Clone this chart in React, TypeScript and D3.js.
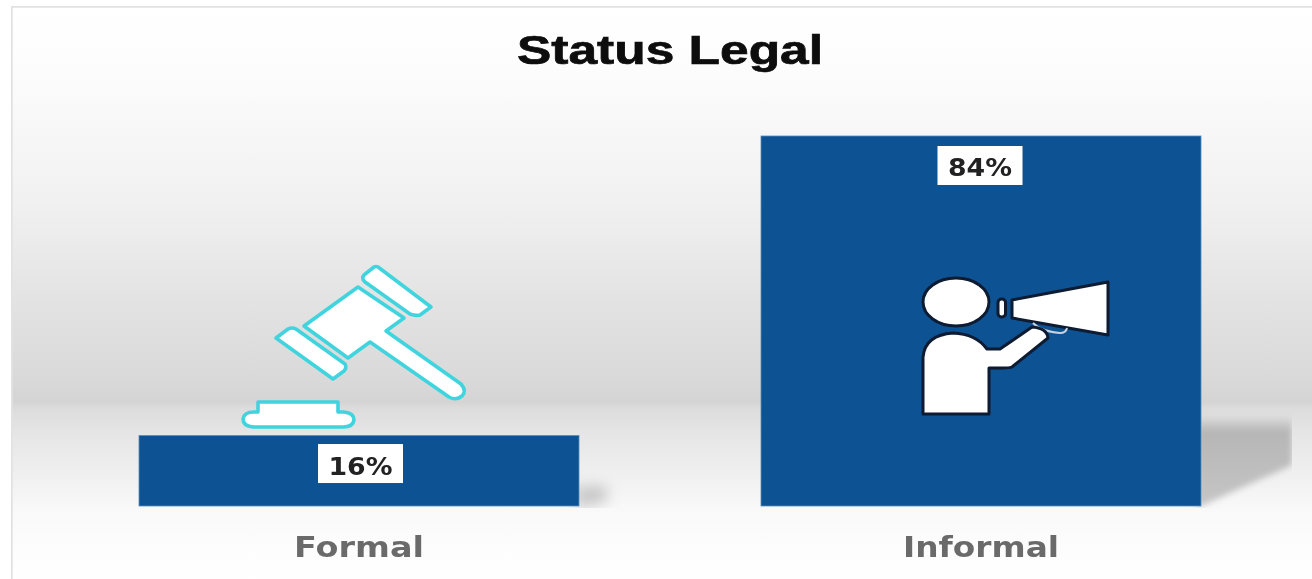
import React from "react";
import * as d3 from "d3";

const categories = ["Formal", "Informal"];
const values = [16, 84];
const valueLabels = ["16%", "84%"];
const title = "Status Legal";

const W = 1312;
const H = 579;
const x = d3.scaleBand<string>().domain(categories).range([48, 1292]).paddingInner(0.2926).paddingOuter(0.1463);
const y = d3.scaleLinear().domain([0, 84]).range([506, 136]);

const bgStops: [number, string][] = [
  [0, "#ffffff"], [0.09, "#fdfdfd"], [0.16, "#fafafa"], [0.335, "#f1f1f1"], [0.507, "#e3e3e3"],
  [0.645, "#d9d9d9"], [0.683, "#d4d4d4"], [0.693, "#dcdcdc"], [0.74, "#e6e6e6"], [0.817, "#f1f1f1"],
  [0.869, "#f9f9f9"], [0.938, "#fdfdfd"], [1, "#ffffff"],
];

function Gavel() {
  const s = { fill: "#fff", stroke: "#3fd4de", strokeWidth: 3.6, strokeLinejoin: "round" as const };
  return (
    <g {...s}>
      <path d="M364 275 L374 267 Q376 266 378 267 L431 307 L420 315 Q415 316 410 314 L365 282 Q361 278 364 275Z" />
      <path d="M304 326 L358 287 L404 318 L386 331 L461 384 Q467 391 462 396 Q456 401 449 397 L370 342 L348 358Z" />
      <path d="M276 338 L288 329 Q292 327 296 329 L345 364 Q347 368 344 371 L333 379Z" />
      <path d="M258 412 V402 H338 V412 H344 Q354 413 354 420 Q353 427 343 427 H253 Q243 426 243 419 Q244 412 254 412Z" />
    </g>
  );
}

function Speaker() {
  const s = { fill: "#fff", stroke: "#0b1a30", strokeWidth: 3, strokeLinejoin: "round" as const };
  return (
    <g {...s}>
      <ellipse cx="956" cy="302" rx="33" ry="24" />
      <rect x="998" y="299" width="7.5" height="18" rx="3.5" />
      <path d="M1012 300 L1108 282 V335 L1012 318Z" />
      <path d="M1033 323 Q1040 331 1060 333 Q1066 333 1067 328" fill="none" stroke="#c8d2de" strokeWidth="2" />
      <path d="M923 414 V357 Q925 335 953 333 Q976 334 987 349 L1000 349 L1032 327 Q1047 328 1048 338 L1012 367 Q1010 368 1003 368 L989 368 V414Z" />
    </g>
  );
}

const shadowDepth = [28, 91];
const shadowRise = [20, 88];
const shadowEnd = [4, 41];
const shadowBlur = ["blurWide", "blur"];
const shadowOpacity = [0.6, 1];
const labelShift = [1.5, -1];
const labelDrop = [8.5, 10];
const labelBaseline = [39, 40];

export default function App() {
  return (
    <svg width={W} height={H} viewBox={`0 0 ${W} ${H}`} style={{ position: "absolute", left: 0, top: 0, display: "block" }}>
      <defs>
        <linearGradient id="bg" x1="0" y1="0" x2="0" y2="1">
          {bgStops.map(([o, c]) => <stop key={o} offset={o} stopColor={c} />)}
        </linearGradient>
        <linearGradient id="shadow" x1="0" y1="0" x2="0" y2="1">
          <stop offset="0" stopColor="#b4b4b4" stopOpacity="0.2" />
          <stop offset="0.15" stopColor="#b6b6b6" />
          <stop offset="1" stopColor="#c6c6c6" />
        </linearGradient>
        <filter id="blur" x="-20%" y="-20%" width="140%" height="140%">
          <feGaussianBlur stdDeviation="3" />
        </filter>
        <filter id="blurWide" x="-80%" y="-80%" width="260%" height="260%">
          <feGaussianBlur stdDeviation="7" />
        </filter>
        <filter id="soft" x="0" y="0" width="100%" height="100%">
          <feGaussianBlur stdDeviation="0.7" />
        </filter>
        <clipPath id="shadowClip">
          <rect x="0" y="0" width="1292" height="508" />
        </clipPath>
      </defs>
      <rect x="0" y="0" width={W} height={H} fill="#fff" />
      <g filter="url(#soft)">
        <rect x="11" y="6" width={W} height="580" fill="url(#bg)" />
        <path d="M11.5 586 V6.5 H1312" fill="none" stroke="#e2e2e2" strokeWidth="2.5" />
        <text x="670" y="64" textAnchor="middle" fontFamily="Liberation Sans, Arial, sans-serif" fontWeight="700" fontSize="41" fill="#0c0c0c" stroke="#0c0c0c" strokeWidth="0.7" textLength={306} lengthAdjust="spacingAndGlyphs">{title}</text>
        {categories.map((c, i) => {
          const bx = x(c)!;
          const bw = x.bandwidth();
          const top = y(values[i]);
          const base = y(0);
          const h = base - top;
          return (
            <g key={c}>
              <g clipPath="url(#shadowClip)">
                <path
                  d={`M${bx + bw - 4} ${base - shadowRise[i]} H${bx + bw + shadowDepth[i]} V${base - shadowEnd[i]} L${bx + bw - 4} ${base + 2}Z`}
                  fill={i === 0 ? "#a8a8a8" : "url(#shadow)"}
                  opacity={shadowOpacity[i]}
                  filter={`url(#${shadowBlur[i]})`}
                />
              </g>
              <rect x={bx} y={top} width={bw} height={h} fill="#0e5394" stroke="#5a8cbc" strokeWidth="0.8" />
              <text x={bx + bw / 2} y={557} textAnchor="middle" fontFamily="DejaVu Sans, sans-serif" fontWeight="700" fontSize="28" fill="#6b6b6b" textLength={c === "Formal" ? 130 : 156} lengthAdjust="spacingAndGlyphs">{c}</text>
            </g>
          );
        })}
        <Gavel />
        <Speaker />
        {categories.map((c, i) => {
          const cx = x(c)! + x.bandwidth() / 2 + labelShift[i];
          const top = y(values[i]);
          return (
            <g key={c + "l"}>
              <rect x={cx - 42.5} y={top + labelDrop[i]} width={85} height={39} fill="#fff" />
              <text x={cx} y={top + labelBaseline[i]} textAnchor="middle" fontFamily="DejaVu Sans, sans-serif" fontWeight="700" fontSize="24" fill="#222" textLength={64} lengthAdjust="spacingAndGlyphs">{valueLabels[i]}</text>
            </g>
          );
        })}
      </g>
    </svg>
  );
}
